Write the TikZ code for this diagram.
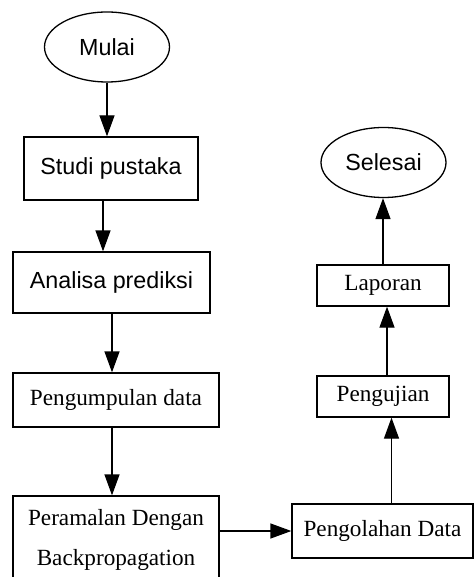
\documentclass[tikz,border=0pt]{standalone}
\usepackage{fontspec}
\setmainfont{Liberation Serif}
\newfontfamily\arialfont{Liberation Sans}
\usetikzlibrary{shapes.geometric,arrows.meta}
\begin{document}
\begin{tikzpicture}[x=1pt,y=-1pt,
  line width=1.3pt,
  sansbox/.style={draw, rectangle, inner sep=0pt, font=\arialfont\fontsize{23.3}{28}\selectfont},
  serifbox/.style={draw, rectangle, inner sep=0pt, align=center, font=\fontsize{23.2}{40}\selectfont},
  term/.style={draw, ellipse, inner sep=0pt, minimum width=125pt, minimum height=70pt, font=\arialfont\fontsize{23.3}{28}\selectfont},
  arr/.style={-{Triangle[length=21pt,width=15pt]}}
]
\useasboundingbox (0,0) rectangle (474,577);
\node[term] (mulai) at (107,47) {Mulai};
\node[sansbox, minimum width=174pt, minimum height=63pt] (studi) at (111,168.5) {Studi pustaka};
\node[sansbox, minimum width=197pt, minimum height=61pt] (analisa) at (111.5,282.5) {Analisa prediksi};
\node[serifbox, minimum width=206pt, minimum height=54pt] (kumpul) at (116,400) {Pengumpulan data};
\node[serifbox, minimum width=206pt, minimum height=88pt] (ramal) at (116,540) {Peramalan Dengan\\Backpropagation};
\node[serifbox, minimum width=181pt, minimum height=54pt] (olah) at (382.5,531) {Pengolahan Data};
\node[serifbox, minimum width=132pt, minimum height=41pt] (uji) at (383,396.5) {Pengujian};
\node[serifbox, minimum width=132pt, minimum height=41pt] (lapor) at (383,285.5) {Laporan};
\node[term] (selesai) at (383.5,162.5) {Selesai};

\draw[arr] (mulai.south) -- (mulai.south |- studi.north);
\draw[arr] ([xshift=-8pt]studi.south) -- ([xshift=-8pt]studi.south |- analisa.north);
\draw[arr] ([xshift=0.5pt]analisa.south) -- ([xshift=0.5pt]analisa.south |- kumpul.north);
\draw[arr] ([xshift=-4pt]kumpul.south) -- ([xshift=-4pt]kumpul.south |- ramal.north);
\draw[arr] (ramal.east |- olah.west) -- (olah.west);
\draw[arr] ([xshift=9pt]olah.north) -- ([xshift=9pt]olah.north |- uji.south);
\draw[arr] ([xshift=4pt]uji.north) -- ([xshift=4pt]uji.north |- lapor.south);
\draw[arr] (lapor.north) -- (lapor.north |- selesai.south);
\end{tikzpicture}
\end{document}
